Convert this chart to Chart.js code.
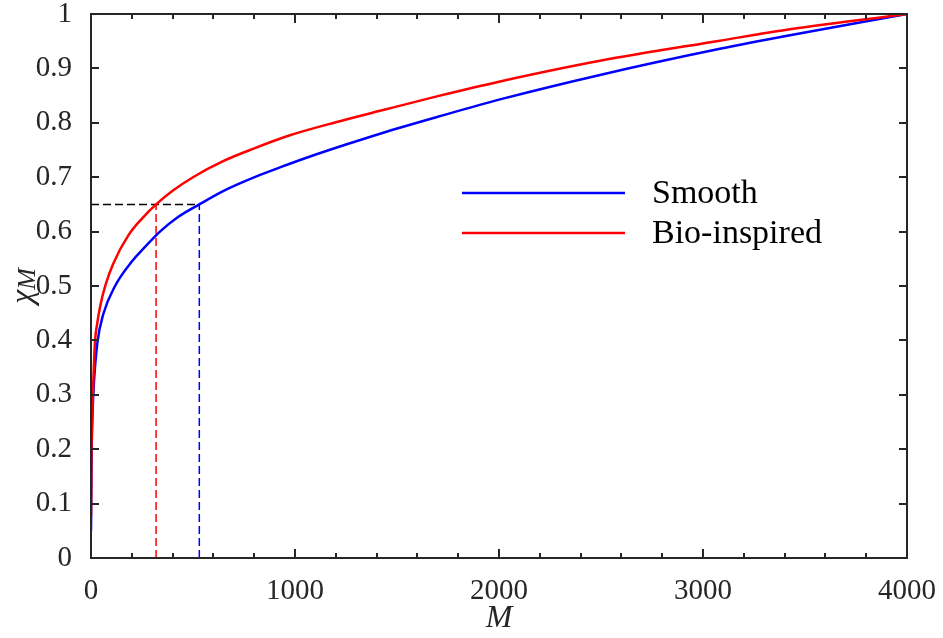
<!DOCTYPE html>
<html>
<head>
<meta charset="utf-8">
<script src="https://cdn.jsdelivr.net/npm/chart.js@4"></script>
<style>
  html, body { margin: 0; padding: 0; background: #fff; }
  #wrap { width: 943px; height: 638px; }
</style>
</head>
<body>
<div id="wrap"><canvas id="chart" width="943" height="638"></canvas></div>
<script>
// values
const bioM   = [0, 2, 5, 10, 20, 30, 45, 72, 110, 183, 250, 319, 400, 500, 650, 800, 975, 1200, 1417, 1700, 2005, 2495, 3083, 3426, 4000];
const bioChi = [0.075, 0.18, 0.25, 0.31, 0.40, 0.43, 0.463, 0.503, 0.542, 0.593, 0.624, 0.65, 0.675, 0.70, 0.73, 0.753, 0.777, 0.801, 0.822, 0.849, 0.876, 0.914, 0.951, 0.972, 1.0];

const smoothM   = [0, 3, 8, 14, 31, 60, 118, 200, 265, 338, 420, 531, 650, 820, 926, 1074, 1250, 1417, 1700, 2005, 2495, 3083, 3426, 4000];
const smoothChi = [0.05, 0.19, 0.27, 0.32, 0.395, 0.448, 0.50, 0.545, 0.572, 0.60, 0.625, 0.65, 0.675, 0.703, 0.718, 0.738, 0.760, 0.780, 0.811, 0.843, 0.888, 0.936, 0.961, 1.0];

const chiLevel = 0.65;
const bioCross = 319;
const smoothCross = 531;

const xTicks = [0, 1000, 2000, 3000, 4000];

const AX = '#262626';
const SERIF = "'Liberation Serif', 'Times New Roman', serif";

const toPts = (xs, ys) => xs.map((x, i) => ({ x: x, y: ys[i] }));

// frame, inward ticks, legend and axis titles
const decor = {
  id: 'decor',
  afterDraw(chart) {
    const ctx = chart.ctx;
    const a = chart.chartArea;
    const xs = chart.scales.x, ys = chart.scales.y;
    ctx.save();
    ctx.strokeStyle = AX;
    ctx.lineWidth = 2;
    ctx.beginPath();
    // x ticks every 200, bigger at 1000
    for (let m = 0; m <= 4000; m += 200) {
      const px = Math.round(xs.getPixelForValue(m));
      const len = (m % 1000 === 0) ? 9 : 5;
      ctx.moveTo(px, a.bottom); ctx.lineTo(px, a.bottom - len);
      ctx.moveTo(px, a.top); ctx.lineTo(px, a.top + len);
    }
    for (let v = 0; v <= 10; v++) {
      const py = Math.round(ys.getPixelForValue(v / 10));
      ctx.moveTo(a.left, py); ctx.lineTo(a.left + 8, py);
      ctx.moveTo(a.right, py); ctx.lineTo(a.right - 8, py);
    }
    ctx.stroke();
    ctx.strokeRect(a.left, a.top, a.right - a.left, a.bottom - a.top);

    // legend
    const items = [
      { label: 'Smooth', color: '#0000ff', y: 193 },
      { label: 'Bio-inspired', color: '#ff0000', y: 233 }
    ];
    ctx.font = '34px ' + SERIF;
    ctx.textBaseline = 'middle';
    ctx.textAlign = 'left';
    items.forEach(it => {
      ctx.strokeStyle = it.color;
      ctx.lineWidth = 2.5;
      ctx.beginPath();
      ctx.moveTo(462, it.y); ctx.lineTo(625, it.y);
      ctx.stroke();
      ctx.fillStyle = '#000';
      ctx.fillText(it.label, 652, it.y + 1);
    });

    // x title
    ctx.fillStyle = AX;
    ctx.font = 'italic 32px ' + SERIF;
    ctx.textAlign = 'center';
    ctx.fillText('M', (a.left + a.right) / 2, 619);

    // y title chi_M
    ctx.translate(26, 286);
    ctx.rotate(-Math.PI / 2);
    ctx.textAlign = 'left';
    ctx.font = 'italic 32px ' + SERIF;
    const w1 = ctx.measureText('\u03c7').width;
    ctx.font = 'italic 26px ' + SERIF;
    const w2 = ctx.measureText('M').width;
    const start = -(w1 + w2) / 2;
    ctx.font = 'italic 32px ' + SERIF;
    ctx.fillText('\u03c7', start, -2);
    ctx.font = 'italic 26px ' + SERIF;
    ctx.fillText('M', start + w1, 2);
    ctx.restore();
  }
};

const dashed = (pts, color) => ({
  data: pts,
  showLine: true,
  borderColor: color,
  borderWidth: 1.5,
  borderDash: [8, 4],
  pointRadius: 0,
  fill: false,
  order: 3
});

new Chart(document.getElementById('chart'), {
  type: 'scatter',
  data: {
    datasets: [
      {
        label: 'Bio-inspired',
        data: toPts(bioM, bioChi),
        showLine: true,
        borderColor: '#ff0000',
        borderWidth: 2.5,
        pointRadius: 0,
        cubicInterpolationMode: 'monotone',
        order: 0
      },
      {
        label: 'Smooth',
        data: toPts(smoothM, smoothChi),
        showLine: true,
        borderColor: '#0000ff',
        borderWidth: 2.5,
        pointRadius: 0,
        cubicInterpolationMode: 'monotone',
        order: 1
      },
      dashed([{ x: 0, y: chiLevel }, { x: smoothCross, y: chiLevel }], '#000000'),
      dashed([{ x: bioCross, y: 0 }, { x: bioCross, y: chiLevel }], '#ff0000'),
      dashed([{ x: smoothCross, y: 0 }, { x: smoothCross, y: chiLevel }], '#0000ff')
    ]
  },
  options: {
    responsive: false,
    animation: false,
    layout: { padding: { top: 14, right: 36, left: 0, bottom: 0 } },
    plugins: {
      legend: { display: false },
      tooltip: { enabled: false }
    },
    scales: {
      x: {
        type: 'linear',
        min: 0,
        max: 4000,
        afterBuildTicks: s => { s.ticks = xTicks.map(v => ({ value: v })); },
        afterFit: s => { s.height = 80; s.paddingLeft = 0; s.paddingRight = 0; },
        grid: { display: false },
        border: { display: false },
        ticks: {
          color: AX,
          font: { family: SERIF, size: 29 },
          padding: 8,
          maxRotation: 0,
          autoSkip: false,
          callback: v => String(v)
        }
      },
      y: {
        min: 0,
        max: 1,
        afterFit: s => { s.width = 91; s.paddingTop = 0; s.paddingBottom = 0; },
        grid: { display: false },
        border: { display: false },
        ticks: {
          stepSize: 0.1,
          color: AX,
          font: { family: SERIF, size: 29 },
          padding: 11,
          callback: v => String(Math.round(v * 10) / 10)
        }
      }
    }
  },
  plugins: [decor]
});
</script>
</body>
</html>
